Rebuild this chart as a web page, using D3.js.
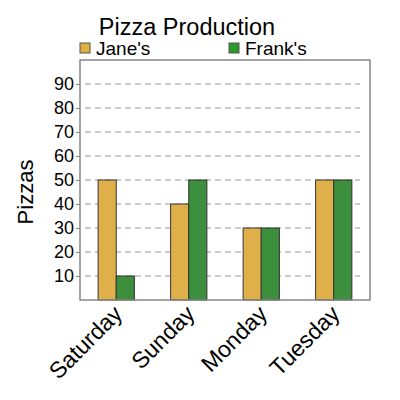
<!DOCTYPE html>
<html>
<head>
<meta charset="utf-8">
<script src="https://cdn.jsdelivr.net/npm/d3@7"></script>
<style>
  body { margin: 0; background: #fff; }
  text { font-family: "Liberation Sans", Arial, sans-serif; fill: #000; }
</style>
</head>
<body>
<script>
// data
var days = ["Saturday", "Sunday", "Monday", "Tuesday"]
var janes = [50, 40, 30, 50]
var franks = [10, 50, 30, 50]
var series = ["Jane's", "Frank's"]
var yTicks = [10, 20, 30, 40, 50, 60, 70, 80, 90]

var w = 400, h = 400
var plotLeft = 80, plotTop = 60, plotRight = 370, plotBottom = 300

var svg = d3.select("body").append("svg")
    .attr("width", w)
    .attr("height", h)

var x = d3.scaleBand()
    .domain(days)
    .range([plotLeft, plotRight])
    .paddingInner(0.5)
    .paddingOuter(0.25)

var x1 = d3.scaleBand()
    .domain(series)
    .range([0, x.bandwidth()])

var y = d3.scaleLinear()
    .domain([0, 100])
    .range([plotBottom, plotTop])

var barColor = { "Jane's": "#dfb04a", "Frank's": "#3c8f3c" }
var legendColor = { "Jane's": "#e0b040", "Frank's": "#2c9a2c" }

// gridlines
svg.append("g").selectAll("line")
    .data(yTicks)
    .enter().append("line")
    .attr("x1", plotLeft + 5)
    .attr("x2", plotRight - 10)
    .attr("y1", d => y(d))
    .attr("y2", d => y(d))
    .attr("stroke", "#bbb")
    .attr("stroke-width", 1.5)
    .attr("stroke-dasharray", "6,4")

// bars
var rows = days.map((d, i) => ({ day: d, vals: [
    { s: "Jane's", v: janes[i] },
    { s: "Frank's", v: franks[i] }
]}))

var groups = svg.append("g").selectAll("g")
    .data(rows)
    .enter().append("g")
    .attr("transform", d => "translate(" + x(d.day) + ",0)")

groups.selectAll("rect")
    .data(d => d.vals)
    .enter().append("rect")
    .attr("x", d => x1(d.s))
    .attr("y", d => y(d.v))
    .attr("width", x1.bandwidth())
    .attr("height", d => y(0) - y(d.v))
    .attr("fill", d => barColor[d.s])
    .attr("stroke", "#333")
    .attr("stroke-width", 1)

// frame
svg.append("rect")
    .attr("x", plotLeft)
    .attr("y", plotTop)
    .attr("width", plotRight - plotLeft)
    .attr("height", plotBottom - plotTop)
    .attr("fill", "none")
    .attr("stroke", "#888")
    .attr("stroke-width", 1.5)

// y axis
var yAxis = svg.append("g")
    .attr("transform", "translate(" + plotLeft + ",0)")
    .call(d3.axisLeft(y).tickValues(yTicks).tickSize(4).tickPadding(2))
yAxis.select(".domain").remove()
yAxis.selectAll("line").attr("stroke", "#888")
yAxis.selectAll("text").attr("font-size", 18).attr("fill", "#000")
    .attr("font-family", "Liberation Sans, Arial, sans-serif")

// x labels
svg.append("g").selectAll("text")
    .data(days)
    .enter().append("text")
    .attr("transform", d => "translate(" + (x(d) + x.bandwidth() / 2 - 4) + "," + (plotBottom + 4) + ") rotate(-45)")
    .attr("text-anchor", "end")
    .attr("dy", "0.7em")
    .attr("font-size", 23)
    .text(d => d)

// y label
svg.append("text")
    .attr("transform", "translate(33,192) rotate(-90)")
    .attr("text-anchor", "middle")
    .attr("font-size", 22)
    .text("Pizzas")

// title
svg.append("text")
    .attr("x", 187)
    .attr("y", 35)
    .attr("text-anchor", "middle")
    .attr("font-size", 23.5)
    .text("Pizza Production")

// legend
var legendX = [80, 229]
var legend = svg.append("g").selectAll("g")
    .data(series)
    .enter().append("g")
    .attr("transform", (d, i) => "translate(" + legendX[i] + ",43)")

legend.append("rect")
    .attr("width", 10)
    .attr("height", 10)
    .attr("fill", d => legendColor[d])
    .attr("stroke", "#555")

legend.append("text")
    .attr("x", 16)
    .attr("y", 12)
    .attr("font-size", 19)
    .text(d => d)
</script>
</body>
</html>
